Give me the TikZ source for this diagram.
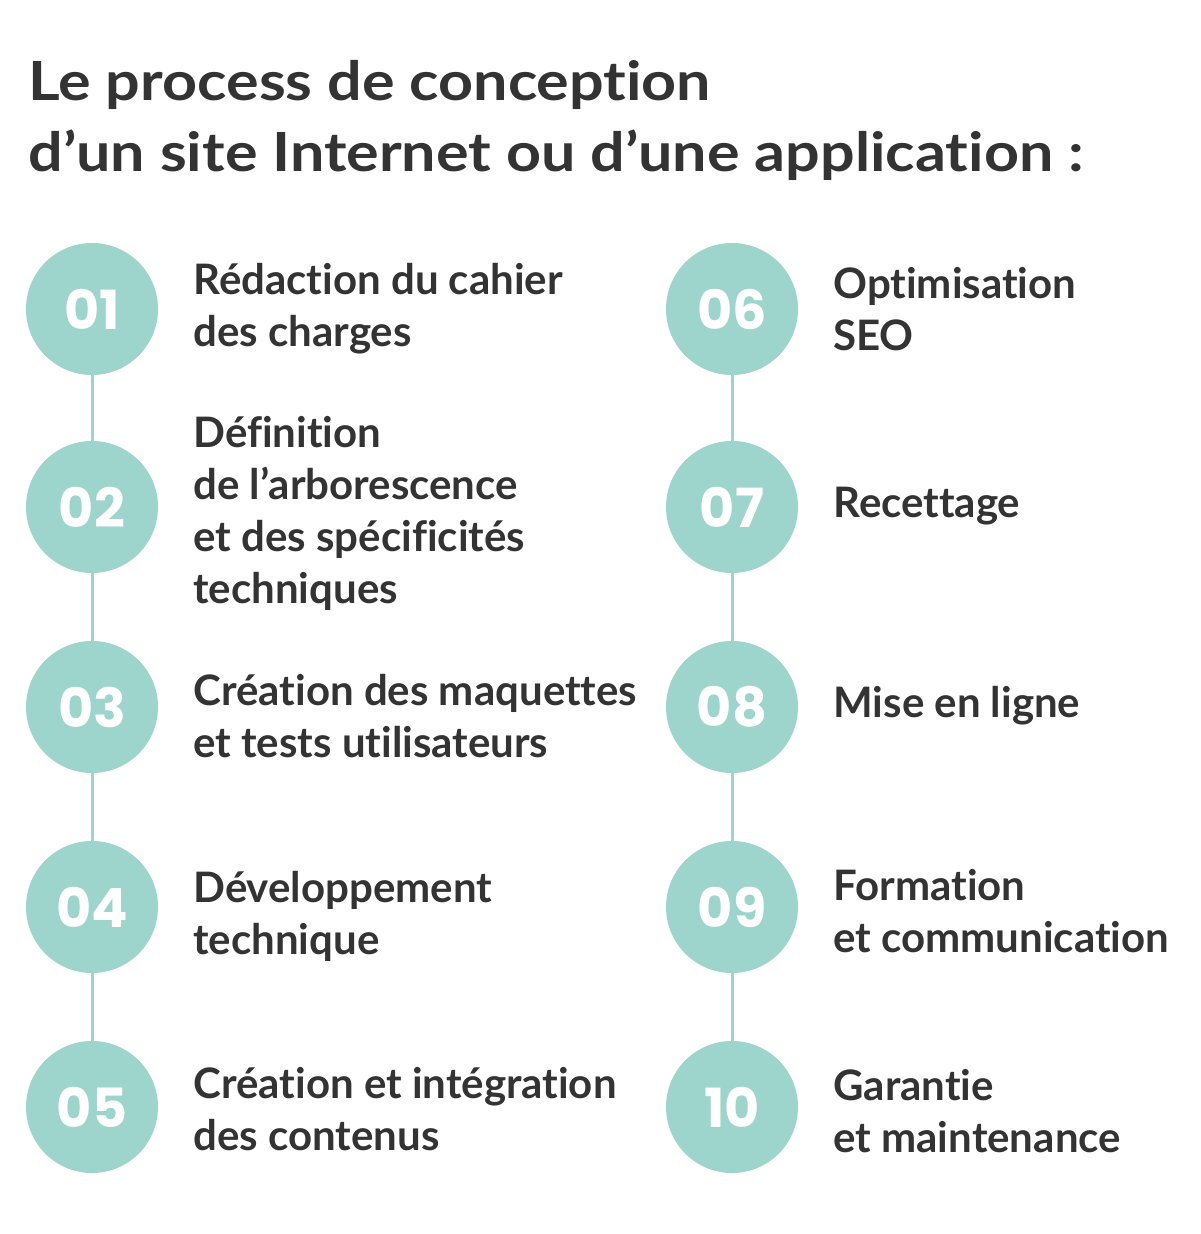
\documentclass[tikz,border=0pt]{standalone}
\usepackage{fontspec}
\setmainfont{Lato}[Ligatures=NoCommon]
\newfontfamily\titlefont{Lato}[FakeStretch=1.13,Ligatures=NoCommon]
\newfontfamily\numfont{Poppins}
\usetikzlibrary{positioning}
\definecolor{teal}{HTML}{9DD4CC}
\definecolor{ink}{HTML}{333333}
\tikzset{
  heading/.style={
    text=ink,
    font=\titlefont\bfseries\fontsize{27}{35.5}\selectfont,
    align=left,
    inner sep=0pt
  },
  stepnum/.style={
    circle,
    fill=teal,
    minimum size=66pt,
    inner sep=0pt,
    text=white,
    font=\numfont\bfseries\fontsize{27}{30}\selectfont
  },
  steptext/.style={
    text=ink,
    font=\bfseries\fontsize{21}{26}\selectfont,
    align=left,
    inner sep=0pt,
    anchor=west
  },
  link/.style={
    draw=teal,
    line width=1.5pt
  }
}

\begin{document}
\begin{tikzpicture}[x=0.5pt,y=-0.5pt]
  \useasboundingbox (0,0) rectangle (1200,1234);

  % Title
  \node[heading, anchor=base west] (title) at (28,172)
    {Le process de conception\\d’un site Internet ou d’une application :};

  % Left column: steps 01 to 05
  \node[stepnum] (c01) at (92,309) {01};
  \node[stepnum] (c02) at (92,507) {02};
  \node[stepnum] (c03) at (92,707) {03};
  \node[stepnum] (c04) at (92,907) {04};
  \node[stepnum] (c05) at (92,1107) {05};

  \node[steptext] (t01) at (193,309) {Rédaction du cahier\\des charges};
  \node[steptext] (t02) at (193,513) {Définition\\de l’arborescence\\et des spécificités\\techniques};
  \node[steptext] (t03) at (193,716) {Création des maquettes\\et tests utilisateurs};
  \node[steptext] (t04) at (193,916) {Développement\\technique};
  \node[steptext] (t05) at (193,1109) {Création et intégration\\des contenus};

  % Right column: steps 06 to 10
  \node[stepnum] (c06) at (732,309) {06};
  \node[stepnum] (c07) at (732,507) {07};
  \node[stepnum] (c08) at (732,707) {08};
  \node[stepnum] (c09) at (732,907) {09};
  \node[stepnum] (c10) at (732,1107) {10};

  \node[steptext] (t06) at (833,309) {Optimisation\\SEO};
  \node[steptext] (t07) at (833,506) {Recettage};
  \node[steptext] (t08) at (833,706) {Mise en ligne};
  \node[steptext] (t09) at (833,911) {Formation\\et communication};
  \node[steptext] (t10) at (833,1111) {Garantie\\et maintenance};

  % Connectors
  \draw[link] (c01) -- (c02);
  \draw[link] (c02) -- (c03);
  \draw[link] (c03) -- (c04);
  \draw[link] (c04) -- (c05);
  \draw[link] (c06) -- (c07);
  \draw[link] (c07) -- (c08);
  \draw[link] (c08) -- (c09);
  \draw[link] (c09) -- (c10);
\end{tikzpicture}
\end{document}
